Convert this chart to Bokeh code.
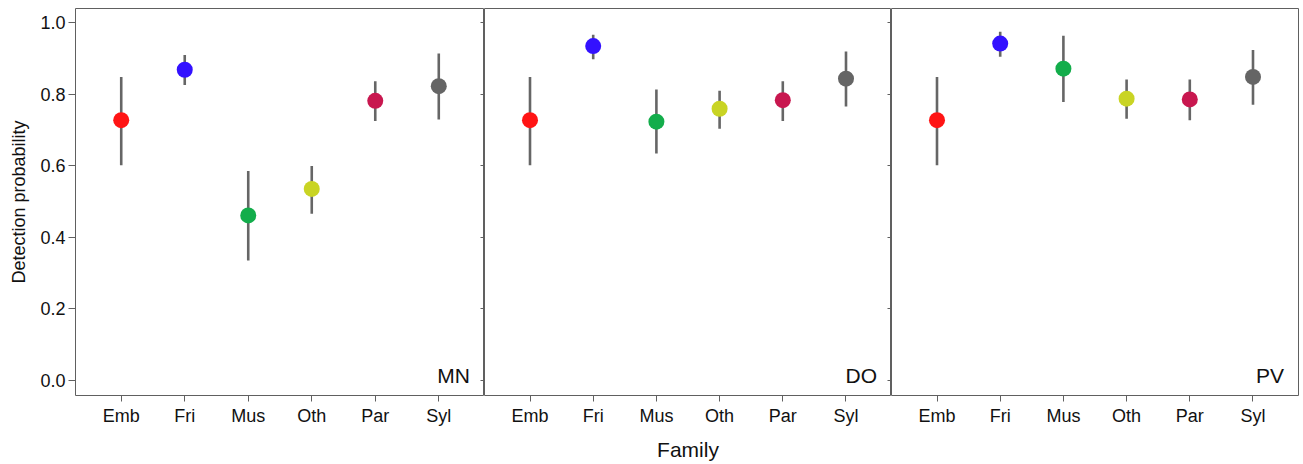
from bokeh.plotting import figure
from bokeh.layouts import row
from bokeh.models import (FactorRange, Range1d, LinearAxis, Label, FixedTicker,
                          CustomJSTickFormatter, CustomLabelingPolicy)
from bokeh.embed import file_html
from bokeh.resources import INLINE

cats = ["Emb", "Fri", "Mus", "Oth", "Par", "Syl"]
colors = ["#FF1414", "#3311FF", "#13AD4B", "#C9D424", "#C8174F", "#656565"]
sites = ["MN", "DO", "PV"]

mn_est = [0.727, 0.868, 0.461, 0.535, 0.781, 0.822]
mn_lo = [0.601, 0.825, 0.335, 0.466, 0.725, 0.729]
mn_hi = [0.848, 0.909, 0.585, 0.599, 0.836, 0.913]

do_est = [0.727, 0.934, 0.723, 0.759, 0.783, 0.843]
do_lo = [0.601, 0.897, 0.634, 0.703, 0.725, 0.765]
do_hi = [0.848, 0.966, 0.813, 0.809, 0.836, 0.919]

pv_est = [0.727, 0.941, 0.871, 0.787, 0.785, 0.848]
pv_lo = [0.601, 0.904, 0.778, 0.731, 0.727, 0.770]
pv_hi = [0.848, 0.974, 0.963, 0.841, 0.841, 0.923]

y_ticks = [0.0, 0.2, 0.4, 0.6, 0.8, 1.0]

FONT = "Liberation Sans"
GREY = "#606060"
TXT = "#111111"

no_labels = CustomLabelingPolicy(code="""
    for (let i = 0; i < indices.size; i++) { indices.unset(i) }
    return indices
""")

data = [(mn_est, mn_lo, mn_hi), (do_est, do_lo, do_hi), (pv_est, pv_lo, pv_hi)]
widths = [484, 407, 408]
figs = []
for i, (site, (est, lo, hi)) in enumerate(zip(sites, data)):
    p = figure(
        width=widths[i], height=464,
        x_range=FactorRange(*cats, range_padding=0.22, range_padding_units="absolute"),
        y_range=Range1d(-0.042, 1.039),
        output_backend="svg", toolbar_location=None,
        y_axis_location="left" if i == 0 else None,
        min_border_left=75 if i == 0 else 0,
        min_border_right=0 if i < 2 else 1,
        min_border_top=8, min_border_bottom=69,
    )
    p.grid.visible = False
    p.outline_line_color = GREY
    p.outline_line_width = 1
    p.background_fill_color = "white"
    p.border_fill_color = "white"

    p.segment(x0=cats, y0=lo, x1=cats, y1=hi, line_color="#666666", line_width=2.6)
    p.scatter(x=cats, y=est, size=16, fill_color=colors, line_color=None)

    xa = p.xaxis[0]
    xa.axis_line_color = None
    xa.major_tick_line_color = GREY
    xa.major_tick_out = 6
    xa.major_tick_in = 0
    xa.major_label_standoff = 4
    xa.major_label_text_font = FONT
    xa.major_label_text_font_size = "18px"
    xa.major_label_text_color = TXT
    if i == 1:
        xa.axis_label = "Family"
        xa.axis_label_text_font = FONT
        xa.axis_label_text_font_size = "21px"
        xa.axis_label_text_font_style = "normal"
        xa.axis_label_text_color = TXT
        xa.axis_label_standoff = 9

    if i == 0:
        ya = p.yaxis[0]
        ya.ticker = FixedTicker(ticks=y_ticks)
        ya.formatter = CustomJSTickFormatter(code="return tick.toFixed(1);")
        ya.axis_line_color = None
        ya.major_tick_line_color = GREY
        ya.major_tick_out = 7
        ya.major_tick_in = 0
        ya.minor_tick_line_color = None
        ya.major_label_standoff = 3
        ya.major_label_text_font = FONT
        ya.major_label_text_font_size = "18px"
        ya.major_label_text_color = TXT
        ya.axis_label = "Detection probability"
        ya.axis_label_text_font = FONT
        ya.axis_label_text_font_size = "18px"
        ya.axis_label_text_font_style = "normal"
        ya.axis_label_text_color = TXT
        ya.axis_label_standoff = 8

    if i < 2:
        ra = LinearAxis(ticker=FixedTicker(ticks=y_ticks))
        ra.axis_line_color = None
        ra.major_tick_line_color = GREY
        ra.major_tick_in = 4
        ra.major_tick_out = 0
        ra.minor_tick_line_color = None
        ra.major_label_policy = no_labels
        ra.major_label_text_font_size = "0px"
        ra.major_label_standoff = 0
        p.add_layout(ra, "right")

    p.add_layout(Label(x=5.99, y=-0.017, text=site, text_align="right",
                       text_baseline="bottom", text_font=FONT,
                       text_font_size="21px", text_color=TXT))
    figs.append(p)

layout = row(*figs)
open("out.html", "w").write(file_html(layout, INLINE))
